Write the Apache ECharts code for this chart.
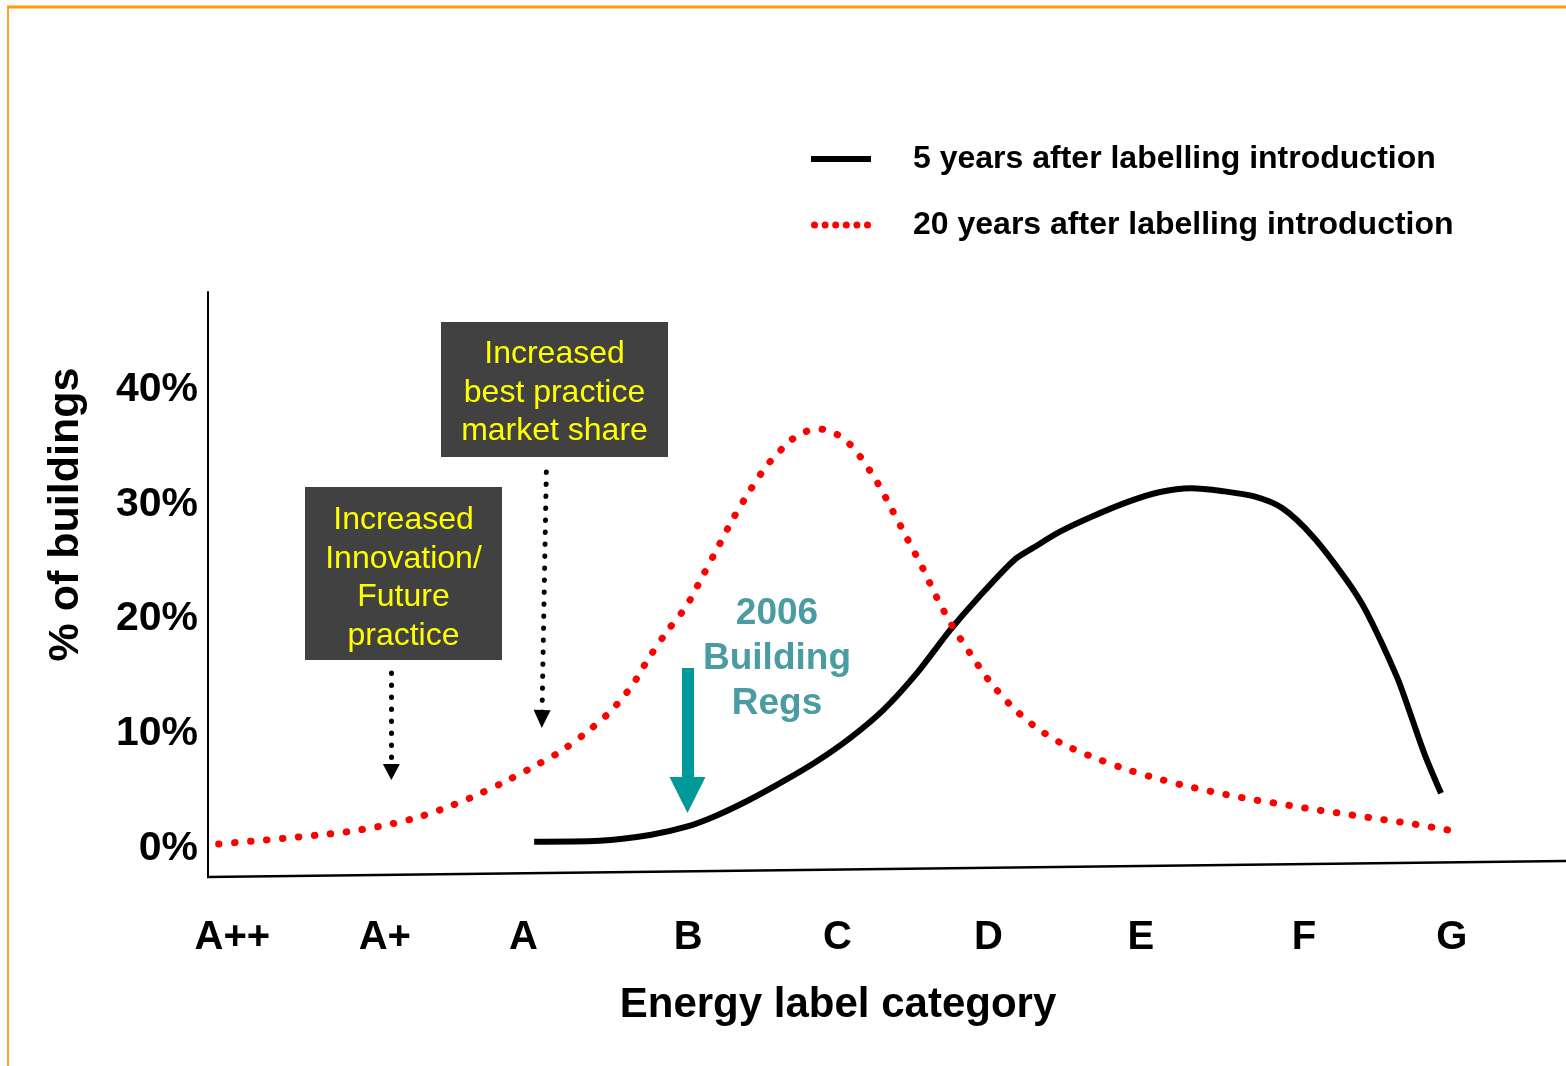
<!DOCTYPE html>
<html>
<head>
<meta charset="utf-8">
<script src="https://cdn.jsdelivr.net/npm/echarts@6/dist/echarts.min.js"></script>
<style>
  html, body { margin: 0; padding: 0; background: #fff; }
  #chart { width: 1566px; height: 1066px; }
</style>
</head>
<body>
<div id="chart"></div>
<script>
// energy label categories and where their labels sit on the x scale
const categoryLabels = ['A++', 'A+', 'A', 'B', 'C', 'D', 'E', 'F', 'G'];
const categoryPos = [1, 2, 2.91, 3.99, 4.97, 5.96, 6.96, 8.03, 9.0];
const yTicks = [0, 10, 20, 30, 40];

// 5 years after labelling introduction (solid black)
const fiveYearX = [2.98, 3.41, 3.74, 3.98, 4.17, 4.39, 4.61, 4.83, 5.05, 5.27, 5.49, 5.71, 5.88, 6.13, 6.26,
  6.43, 6.63, 6.88, 7.08, 7.29, 7.49, 7.71, 7.89, 8.09, 8.31, 8.44, 8.64, 8.72, 8.82, 8.93];
const fiveYearY = [0.29, 0.37, 0.87, 1.59, 2.53, 3.92, 5.52, 7.26, 9.30, 11.76, 14.96, 18.74, 21.35, 24.84, 25.94,
  27.30, 28.56, 29.92, 30.74, 31.09, 30.85, 30.35, 29.34, 26.87, 23.09, 20.33, 14.67, 11.76, 7.99, 4.51];

// 20 years after labelling introduction (red dotted)
const twentyYearX = [0.91, 1.12, 1.34, 1.55, 1.76, 1.97, 2.18, 2.38, 2.58, 2.77, 2.96, 3.15, 3.32, 3.48, 3.62,
  3.73, 3.85, 3.98, 4.08, 4.18, 4.28, 4.39, 4.51, 4.66, 4.75, 4.85, 4.95, 5.04, 5.11, 5.23, 5.33, 5.43, 5.53,
  5.62, 5.72, 5.84, 5.96, 6.10, 6.26, 6.44, 6.64, 6.84, 7.04, 7.25, 7.46, 7.67, 7.88, 8.09, 8.30, 8.51, 8.72,
  8.93, 9.05];
const twentyYearY = [0.09, 0.32, 0.58, 0.85, 1.16, 1.63, 2.27, 3.14, 4.21, 5.40, 6.71, 8.13, 9.78, 11.63, 13.86,
  16.24, 18.58, 20.85, 23.30, 25.80, 28.32, 30.76, 33.12, 35.21, 35.97, 36.25, 35.90, 35.06, 34.01, 31.63, 29.17,
  26.64, 24.11, 21.61, 19.17, 16.71, 14.41, 12.26, 10.37, 8.86, 7.69, 6.71, 5.90, 5.17, 4.56, 4.01, 3.57, 3.11,
  2.70, 2.29, 1.89, 1.42, 1.12];

const seriesNames = ['5 years after labelling introduction', '20 years after labelling introduction'];
const FONT = '"Liberation Sans", Arial, sans-serif';

function pairs(xs, ys) {
  return xs.map((x, i) => [x, ys[i]]);
}

// legend icons: a solid bar and a row of six dots
function dotRowPath() {
  let d = '';
  for (let k = 0; k < 6; k++) {
    const cx = 3.5 + k * 10.6;
    d += 'M' + (cx - 3.5) + ',3.5a3.5,3.5 0 1,0 7,0a3.5,3.5 0 1,0 -7,0';
  }
  return 'path://' + d;
}

const chart = echarts.init(document.getElementById('chart'));

const dottedArrow = { color: '#000', width: 5, type: [0.5, 11.5], cap: 'round' };

chart.setOption({
  animation: false,
  backgroundColor: '#fff',
  grid: { left: 208, right: 0, top: 292, bottom: 189 },
  legend: {
    orient: 'vertical',
    left: 806,
    top: 138,
    itemWidth: 60,
    itemHeight: 7,
    itemGap: 34,
    selectedMode: false,
    itemStyle: { borderWidth: 0 },
    textStyle: { fontFamily: FONT, fontWeight: 'bold', fontSize: 32, color: '#000', padding: [0, 0, 0, 37] },
    data: [
      { name: seriesNames[0], icon: 'path://M0,0H60V6H0Z' },
      { name: seriesNames[1], icon: dotRowPath() }
    ]
  },
  xAxis: {
    type: 'value',
    min: 0.84,
    max: 9.75,
    axisLine: { show: false },
    axisTick: { show: false },
    splitLine: { show: false },
    axisLabel: {
      customValues: categoryPos,
      margin: 41,
      fontFamily: FONT,
      fontWeight: 'bold',
      fontSize: 40,
      color: '#000',
      formatter: v => categoryLabels[categoryPos.indexOf(v)] || ''
    },
    name: 'Energy label category',
    nameLocation: 'middle',
    nameGap: 107,
    nameTextStyle: { fontFamily: FONT, fontWeight: 'bold', fontSize: 42, color: '#000', padding: [0, 98, 0, 0] }
  },
  yAxis: {
    type: 'value',
    min: -2.79,
    max: 48.19,
    axisLine: { show: true, lineStyle: { color: '#000', width: 2 } },
    axisTick: { show: false },
    splitLine: { show: false },
    axisLabel: {
      customValues: yTicks,
      margin: 10,
      formatter: v => '{t|' + v + '%}',
      rich: {
        t: { fontFamily: FONT, fontWeight: 'bold', fontSize: 41, color: '#000', padding: [7, 0, 0, 0] }
      }
    },
    name: '% of buildings',
    nameLocation: 'middle',
    nameGap: 120,
    nameRotate: 90,
    nameTextStyle: { fontFamily: FONT, fontWeight: 'bold', fontSize: 43, color: '#000', padding: [0, 0, 0, 140] }
  },
  series: [
    {
      name: seriesNames[0],
      type: 'line',
      data: pairs(fiveYearX, fiveYearY),
      symbol: 'none',
      smooth: 0.3,
      color: '#000',
      lineStyle: { color: '#000', width: 6 },
      emphasis: { disabled: true },
      markLine: {
        silent: true,
        animation: false,
        symbol: ['none', 'triangle'],
        label: { show: false },
        emphasis: { disabled: true },
        data: [
          [
            { coord: [3.06, 32.51], lineStyle: dottedArrow, symbolSize: [17, 18] },
            { coord: [3.031, 10.98], symbolSize: [17, 18] }
          ],
          [
            { coord: [2.043, 14.99], lineStyle: dottedArrow, symbolSize: [17, 16] },
            { coord: [2.043, 6.36], symbolSize: [17, 16] }
          ],
          [
            { coord: [3.986, 15.42], lineStyle: { color: '#009999', width: 12, type: 'solid' }, itemStyle: { color: '#009999' }, symbolSize: [36, 36] },
            { coord: [3.986, 4.36], itemStyle: { color: '#009999' }, symbolSize: [36, 36] }
          ]
        ]
      }
    },
    {
      name: seriesNames[1],
      type: 'line',
      data: pairs(twentyYearX, twentyYearY),
      symbol: 'none',
      smooth: 0.3,
      color: '#ff0000',
      lineStyle: { color: '#ff0000', width: 7, type: [0.5, 15.5], cap: 'round' },
      emphasis: { disabled: true }
    }
  ],
  graphic: [
    // orange frame
    { type: 'line', shape: { x1: 7, y1: 7, x2: 1566, y2: 7 }, style: { stroke: '#ff9c00', lineWidth: 3 } },
    { type: 'line', shape: { x1: 8, y1: 7, x2: 8, y2: 1066 }, style: { stroke: '#ffa31a', lineWidth: 2 } },
    // slanted x axis line
    { type: 'line', shape: { x1: 207, y1: 877, x2: 1566, y2: 861 }, style: { stroke: '#000', lineWidth: 2.5 } },
    // annotation boxes
    { type: 'rect', shape: { x: 441, y: 322, width: 227, height: 135 }, style: { fill: '#414141' } },
    {
      type: 'text', x: 554.5, y: 393,
      style: {
        text: 'Increased\nbest practice\nmarket share', align: 'center', verticalAlign: 'middle',
        fill: '#ffff00', fontFamily: FONT, fontSize: 32, lineHeight: 38.5
      }
    },
    { type: 'rect', shape: { x: 305, y: 487, width: 197, height: 173 }, style: { fill: '#414141' } },
    {
      type: 'text', x: 403.5, y: 578,
      style: {
        text: 'Increased\nInnovation/\nFuture\npractice', align: 'center', verticalAlign: 'middle',
        fill: '#ffff00', fontFamily: FONT, fontSize: 32, lineHeight: 38.5
      }
    },
    {
      type: 'text', x: 777, y: 659,
      style: {
        text: '2006\nBuilding\nRegs', align: 'center', verticalAlign: 'middle',
        fill: '#4b9ca2', fontFamily: FONT, fontWeight: 'bold', fontSize: 37, lineHeight: 45
      }
    }
  ]
});
</script>
</body>
</html>
